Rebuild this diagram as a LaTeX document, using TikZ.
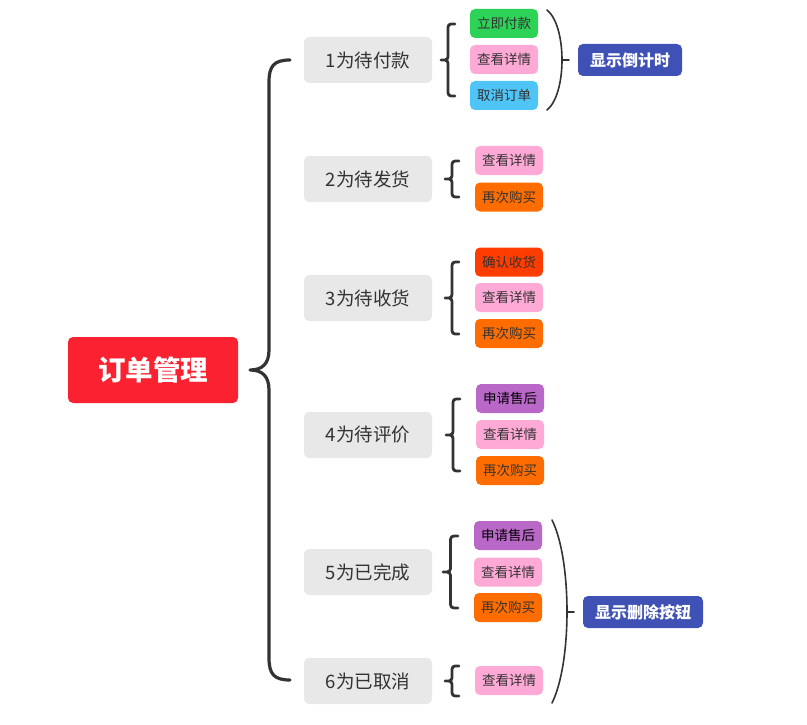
\documentclass[tikz,border=0pt]{standalone}
\usepackage{fontspec}
\setmainfont{Noto Sans CJK SC}
\definecolor{rootred}{HTML}{FA2231}
\definecolor{catgray}{HTML}{E8E8E8}
\definecolor{txt}{HTML}{333333}
\definecolor{lgreen}{HTML}{2CD356}
\definecolor{lpink}{HTML}{FFAAD6}
\definecolor{lblue}{HTML}{4FC4F7}
\definecolor{lorange}{HTML}{FF6D00}
\definecolor{lred}{HTML}{FF3D00}
\definecolor{lpurple}{HTML}{BA68C8}
\definecolor{sblue}{HTML}{3F51B5}
\definecolor{brc}{HTML}{333333}
\tikzset{
  rootnode/.style={fill=rootred, rounded corners=5pt, minimum width=170pt, minimum height=66pt, text=white, font=\fontsize{27.5}{30}\selectfont\bfseries, inner sep=0pt},
  catnode/.style={fill=catgray, rounded corners=5pt, minimum width=128pt, minimum height=46pt, text=txt, font=\fontsize{18.5}{20}\selectfont, inner sep=0pt},
  leafnode/.style={rounded corners=5pt, minimum width=68pt, minimum height=29pt, text=txt, font=\fontsize{13.5}{15}\selectfont, inner sep=0pt},
  summnode/.style={fill=sblue, rounded corners=5pt, minimum height=32pt, text=white, font=\fontsize{16}{18}\selectfont\bfseries, inner sep=0pt},
  bigbrace/.style={draw=brc, line width=3.2pt, line cap=round, line join=round},
  smallbrace/.style={draw=brc, line width=2.8pt, line cap=round, line join=round},
  parenline/.style={draw=brc, line width=1.6pt, line cap=round},
}
% #1 tip x, #2 end x, #3 top y, #4 mid y, #5 bottom y, #6 style
\newcommand{\mmbrace}[6]{%
  \pgfmathsetmacro{\hh}{(#2-#1)/2}%
  \pgfmathsetmacro{\vv}{#1+\hh}%
  \draw[#6] (#2,#3) .. controls (\vv,#3) .. (\vv,#3+\hh) -- (\vv,#4-\hh)
     .. controls (\vv,#4) .. (#1,#4) .. controls (\vv,#4) .. (\vv,#4+\hh)
     -- (\vv,#5-\hh) .. controls (\vv,#5) .. (#2,#5);
}
\begin{document}
\begin{tikzpicture}[x=1pt,y=-1pt]
\useasboundingbox (0,0) rectangle (807,725);
% root
\node[rootnode] (root) at (153,370) {订单管理};
% categories
\node[catnode] (c1) at (368,60) {1为待付款};
\node[catnode] (c2) at (368,179) {2为待发货};
\node[catnode] (c3) at (368,298) {3为待收货};
\node[catnode] (c4) at (368,435) {4为待评价};
\node[catnode] (c5) at (368,572) {5为已完成};
\node[catnode] (c6) at (368,681) {6为已取消};
% main brace
\draw[bigbrace] (290,60) .. controls (274,60) and (269,66) .. (269,82) -- (269,350)
  .. controls (269,364) and (262,370) .. (250,370)
  .. controls (262,370) and (269,376) .. (269,390) -- (269,658)
  .. controls (269,674) and (274,680) .. (290,680);
% group 1
\node[leafnode, fill=lgreen] (l11) at (504,23.5) {立即付款};
\node[leafnode, fill=lpink] (l12) at (504,59.5) {查看详情};
\node[leafnode, fill=lblue] (l13) at (504,95.5) {取消订单};
\mmbrace{441}{455}{24}{60}{96}{smallbrace}
% group 2
\node[leafnode, fill=lpink] (l21) at (509,160.5) {查看详情};
\node[leafnode, fill=lorange] (l22) at (509,197) {再次购买};
\mmbrace{445}{459}{161}{179}{197}{smallbrace}
% group 3
\node[leafnode, fill=lred] (l31) at (509,262) {确认收货};
\node[leafnode, fill=lpink] (l32) at (509,297.5) {查看详情};
\node[leafnode, fill=lorange] (l33) at (509,333.5) {再次购买};
\mmbrace{445}{459}{262}{298}{334}{smallbrace}
% group 4
\node[leafnode, fill=lpurple, text=black] (l41) at (510,398.5) {申请售后};
\node[leafnode, fill=lpink] (l42) at (510,434.5) {查看详情};
\node[leafnode, fill=lorange] (l43) at (510,470.5) {再次购买};
\mmbrace{446}{460}{399}{435}{471}{smallbrace}
% group 5
\node[leafnode, fill=lpurple, text=black] (l51) at (508,535.5) {申请售后};
\node[leafnode, fill=lpink] (l52) at (508,572) {查看详情};
\node[leafnode, fill=lorange] (l53) at (508,607.5) {再次购买};
\mmbrace{443}{458}{536}{572}{608}{smallbrace}
% group 6
\node[leafnode, fill=lpink] (l61) at (509,680.5) {查看详情};
\mmbrace{445}{459}{666}{681}{696}{smallbrace}
% summaries
\node[summnode, minimum width=104pt] (s1) at (630,60) {显示倒计时};
\node[summnode, minimum width=120pt] (s2) at (643,612) {显示删除按钮};
\coordinate (p1) at (562,60);
\coordinate (q1) at (569,60);
\draw[parenline] (547,10) .. controls (567,26) and (567,94) .. (547,110);
\draw[parenline] (p1) -- (q1);
\coordinate (p2) at (567,612);
\coordinate (q2) at (574,612);
\draw[parenline] (552,520) .. controls (572,560) and (572,663) .. (552,703);
\draw[parenline] (p2) -- (q2);
\end{tikzpicture}
\end{document}
